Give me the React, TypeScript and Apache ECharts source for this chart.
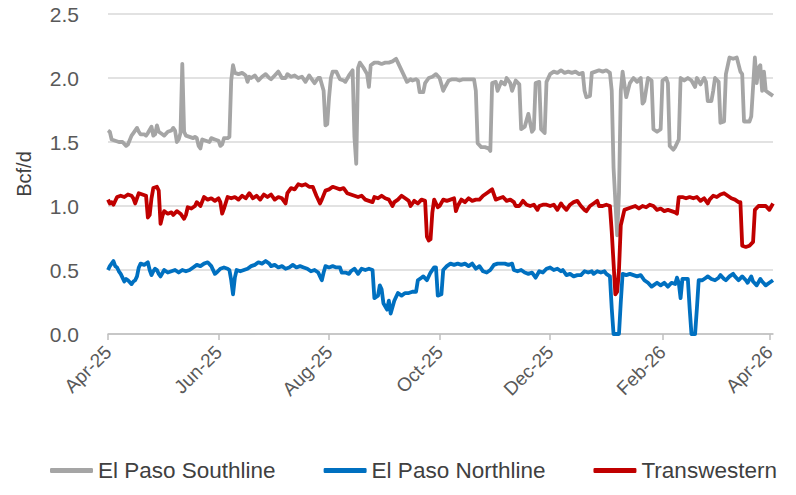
import React, { useEffect, useRef } from "react";
import * as echarts from "echarts";

// Day offsets from 1 Apr 2025
const startYear = 2025;
const startMonth = 3; // April (0-based)
const axisEndDay = 367;

const tickDays = [0, 61, 122, 183, 244, 306, 365];
const monthNames = ["Jan", "Feb", "Mar", "Apr", "May", "Jun", "Jul", "Aug", "Sep", "Oct", "Nov", "Dec"];

const yTicks = { min: 0, max: 2.5, interval: 0.5 };

const seriesNames = ["El Paso Southline", "El Paso Northline", "Transwestern"];
const seriesColors = ["#a5a5a5", "#0070c0", "#c00000"];

const southline: [number, number][] = [
  [0,1.59],[1,1.58],[2,1.52],[4,1.51],[6,1.50],[8,1.50],[10,1.47],[11,1.48],[13,1.55],[14,1.57],[16,1.61],[17,1.58],[18,1.56],[20,1.56],[21,1.55],[22,1.57],[24,1.62],[25,1.55],[26,1.56],[27,1.63],[28,1.58],[30,1.56],[31,1.55],[33,1.58],[35,1.59],[36,1.61],[37,1.59],[38,1.50],[39,1.52],[40,1.57],[41,2.11],[42,1.58],[43,1.55],[45,1.54],[47,1.53],[48,1.54],[49,1.53],[50,1.47],[51,1.45],[52,1.52],[54,1.51],[56,1.50],[57,1.53],[59,1.52],[61,1.51],[62,1.47],[63,1.48],[64,1.53],[66,1.53],[67,1.54],[68,1.98],[69,2.10],[70,2.04],[72,2.03],[74,2.04],[75,2.03],[76,2.02],[77,1.97],[78,2.01],[79,2.0],[81,2.02],[83,1.98],[85,2.01],[87,2.03],[89,2.0],[90,1.99],[92,2.02],[94,2.05],[96,2.0],[98,2.0],[99,2.03],[101,2.01],[103,2.02],[105,2.0],[107,2.01],[109,1.97],[111,2.02],[113,1.98],[114,1.96],[116,2.0],[117,2.0],[119,1.9],[120,1.63],[121,1.64],[122,1.85],[123,2.0],[124,2.05],[126,2.05],[128,1.99],[130,1.98],[131,1.97],[133,2.02],[135,2.06],[136,1.54],[137,1.33],[138,2.08],[139,2.12],[141,2.08],[143,2.03],[144,1.93],[145,2.1],[147,2.12],[149,2.12],[151,2.11],[153,2.12],[155,2.12],[157,2.13],[159,2.15],[160,2.12],[163,2.03],[165,1.97],[167,1.99],[168,1.98],[170,1.99],[171,1.98],[172,1.89],[174,1.89],[175,1.96],[177,2.0],[179,2.01],[181,2.03],[183,2.0],[185,1.9],[186,1.93],[188,1.98],[190,1.99],[192,1.99],[194,1.98],[196,1.99],[198,1.99],[200,1.99],[202,1.99],[203,1.90],[204,1.49],[206,1.46],[208,1.46],[210,1.45],[211,1.43],[212,1.96],[214,1.97],[215,1.9],[217,1.97],[219,1.95],[220,2.0],[222,1.96],[223,1.9],[225,1.98],[227,1.95],[228,1.6],[230,1.62],[232,1.72],[234,1.58],[235,1.6],[236,1.96],[238,1.97],[239,1.6],[241,1.57],[242,1.97],[244,2.03],[246,2.05],[248,2.04],[250,2.06],[252,2.04],[254,2.05],[256,2.04],[258,2.05],[260,2.03],[262,2.04],[263,1.9],[264,1.85],[266,1.86],[267,2.04],[269,2.05],[271,2.06],[273,2.05],[275,2.06],[277,2.04],[278,1.9],[279,1.3],[281,0.77],[282,1.1],[283,1.9],[284,2.05],[286,1.85],[288,1.96],[290,2.0],[292,1.97],[294,2.0],[295,1.8],[296,1.82],[298,2.0],[300,1.98],[301,1.6],[303,1.58],[305,1.6],[306,1.98],[308,2.0],[309,1.96],[310,1.47],[312,1.44],[313,1.46],[315,1.52],[316,2.0],[318,1.98],[320,2.0],[322,1.98],[324,1.93],[325,2.0],[327,1.95],[329,2.0],[330,1.97],[331,1.82],[333,1.82],[334,1.9],[335,2.0],[337,1.97],[338,1.65],[340,1.66],[341,2.03],[343,2.16],[345,2.15],[347,2.16],[349,2.05],[350,2.03],[351,1.66],[354,1.66],[355,1.7],[357,2.16],[358,1.96],[359,2.08],[360,2.1],[361,1.9],[362,2.05],[363,1.9],[365,1.88],[367,1.86]
];

const northline: [number, number][] = [
  [0,0.5],[1,0.53],[3,0.57],[4,0.53],[5,0.52],[6,0.49],[7,0.47],[8,0.44],[9,0.41],[10,0.43],[11,0.42],[13,0.39],[14,0.41],[15,0.42],[16,0.45],[17,0.52],[18,0.55],[20,0.54],[22,0.56],[23,0.5],[24,0.46],[25,0.49],[26,0.51],[27,0.5],[28,0.47],[29,0.45],[31,0.5],[33,0.48],[35,0.49],[37,0.5],[39,0.48],[41,0.5],[43,0.49],[45,0.5],[47,0.52],[49,0.54],[51,0.53],[53,0.55],[55,0.56],[57,0.53],[59,0.47],[60,0.48],[62,0.51],[64,0.52],[66,0.51],[67,0.5],[68,0.42],[69,0.31],[70,0.44],[71,0.5],[73,0.49],[75,0.5],[77,0.51],[79,0.53],[81,0.54],[83,0.56],[85,0.55],[87,0.57],[89,0.55],[90,0.53],[92,0.54],[94,0.52],[96,0.53],[98,0.51],[100,0.52],[102,0.54],[104,0.52],[106,0.53],[108,0.52],[110,0.51],[112,0.49],[114,0.5],[116,0.48],[117,0.45],[118,0.42],[119,0.48],[120,0.53],[122,0.52],[124,0.53],[126,0.52],[128,0.52],[129,0.48],[131,0.48],[133,0.47],[134,0.49],[136,0.51],[138,0.47],[140,0.51],[142,0.5],[144,0.51],[146,0.5],[147,0.28],[149,0.3],[150,0.38],[151,0.35],[152,0.24],[154,0.19],[155,0.26],[156,0.16],[158,0.26],[160,0.32],[162,0.3],[164,0.32],[166,0.32],[168,0.33],[170,0.33],[171,0.42],[173,0.44],[174,0.45],[176,0.42],[178,0.48],[180,0.52],[181,0.52],[182,0.3],[184,0.31],[185,0.5],[187,0.53],[189,0.55],[191,0.54],[193,0.55],[195,0.54],[197,0.55],[199,0.53],[201,0.55],[203,0.51],[205,0.53],[207,0.49],[209,0.48],[211,0.5],[213,0.54],[215,0.55],[217,0.55],[219,0.55],[221,0.54],[223,0.55],[224,0.5],[226,0.49],[228,0.5],[230,0.48],[232,0.47],[234,0.48],[236,0.44],[238,0.49],[240,0.48],[242,0.51],[244,0.52],[246,0.5],[248,0.51],[250,0.49],[251,0.5],[253,0.46],[255,0.47],[257,0.45],[259,0.46],[261,0.46],[263,0.49],[265,0.48],[267,0.49],[268,0.47],[270,0.49],[272,0.48],[274,0.49],[275,0.47],[277,0.45],[278,0.2],[279,0],[282,0],[283,0.25],[284,0.47],[286,0.46],[288,0.47],[290,0.46],[292,0.45],[294,0.46],[296,0.42],[298,0.4],[300,0.37],[301,0.38],[303,0.4],[305,0.38],[307,0.4],[309,0.37],[311,0.4],[313,0.39],[314,0.44],[315,0.4],[316,0.28],[317,0.43],[319,0.43],[320,0.43],[321,0.2],[322,0],[324,0],[325,0.2],[326,0.42],[328,0.42],[330,0.44],[331,0.45],[333,0.43],[335,0.42],[337,0.44],[338,0.46],[340,0.43],[341,0.42],[343,0.45],[345,0.47],[346,0.45],[348,0.42],[350,0.45],[352,0.42],[353,0.4],[355,0.45],[356,0.41],[358,0.38],[360,0.43],[361,0.41],[363,0.38],[365,0.4],[367,0.42]
];

const transwestern: [number, number][] = [
  [0,1.05],[1,1.02],[2,1.03],[3,1.01],[5,1.07],[7,1.08],[9,1.07],[11,1.09],[13,1.08],[14,1.06],[15,1.02],[17,1.1],[19,1.09],[21,1.08],[22,0.91],[23,0.93],[24,1.06],[25,1.14],[27,1.15],[28,1.12],[29,0.86],[30,0.92],[31,0.96],[33,0.94],[35,0.95],[36,0.93],[38,0.96],[40,0.94],[42,0.9],[43,0.93],[44,0.99],[46,0.98],[48,1.0],[49,1.03],[51,1.0],[53,1.07],[55,1.05],[57,1.06],[59,1.04],[61,1.06],[62,1.03],[63,0.94],[64,0.98],[66,1.07],[68,1.06],[70,1.07],[72,1.05],[74,1.08],[76,1.06],[78,1.1],[80,1.06],[82,1.08],[84,1.05],[86,1.09],[88,1.07],[90,1.09],[92,1.05],[94,1.07],[96,1.06],[98,1.02],[99,1.1],[101,1.14],[103,1.13],[105,1.17],[107,1.16],[109,1.17],[111,1.15],[113,1.15],[115,1.08],[117,1.02],[118,1.05],[120,1.12],[122,1.13],[124,1.15],[126,1.14],[128,1.13],[130,1.14],[132,1.1],[134,1.09],[136,1.08],[138,1.07],[140,1.08],[142,1.05],[144,1.04],[146,1.03],[147,1.07],[149,1.06],[151,1.08],[153,1.06],[155,1.05],[157,1.0],[158,1.03],[160,1.05],[162,1.08],[164,1.06],[166,1.04],[167,1.0],[169,1.04],[171,1.02],[173,1.05],[175,1.04],[176,0.76],[177,0.73],[178,0.74],[179,0.95],[180,1.05],[182,0.99],[183,1.0],[185,1.05],[187,1.04],[189,1.05],[191,1.06],[192,0.96],[193,1.0],[195,1.05],[197,1.03],[199,1.06],[201,1.04],[203,1.05],[205,1.05],[207,1.08],[209,1.1],[211,1.12],[212,1.13],[214,1.05],[216,1.06],[218,1.07],[220,1.04],[222,1.05],[224,1.03],[225,1.0],[227,1.0],[229,1.04],[231,1.01],[233,1.0],[235,1.01],[237,0.97],[238,1.0],[240,1.01],[242,1.01],[244,1.0],[246,1.01],[248,0.97],[250,1.02],[251,1.0],[253,0.97],[255,1.01],[257,1.03],[259,1.04],[261,1.0],[263,0.97],[264,0.96],[266,1.0],[268,1.02],[270,1.04],[271,1.0],[273,1.0],[275,1.01],[277,1.0],[278,0.8],[280,0.31],[281,0.33],[282,0.5],[283,0.85],[285,0.97],[287,0.98],[289,0.99],[291,1.0],[293,0.98],[295,1.0],[297,0.99],[299,1.01],[301,1.0],[303,0.97],[305,0.98],[307,0.96],[309,0.97],[311,0.96],[313,0.95],[314,0.94],[315,1.07],[317,1.07],[319,1.06],[321,1.07],[323,1.06],[325,1.07],[327,1.04],[329,1.06],[331,1.02],[332,1.05],[334,1.08],[336,1.07],[338,1.09],[340,1.1],[342,1.08],[344,1.06],[346,1.05],[348,1.03],[349,1.03],[350,0.69],[352,0.68],[354,0.69],[356,0.72],[357,0.97],[359,1.0],[361,1.0],[363,1.0],[365,0.97],[367,1.02]
];

const dayLabel = (d: number) => {
  const dt = new Date(startYear, startMonth, 1 + Math.round(d));
  return monthNames[dt.getMonth()] + "-" + String(dt.getFullYear()).slice(2);
};

const FONT = "'Liberation Sans', Arial, sans-serif";

export default function App() {
  const ref = useRef<HTMLDivElement>(null);
  useEffect(() => {
    if (!ref.current) return;
    const chart = echarts.init(ref.current, undefined, { renderer: "svg" });
    const allSeries = [southline, northline, transwestern];
    chart.setOption({
      animation: false,
      backgroundColor: "#ffffff",
      textStyle: { fontFamily: FONT },
      grid: { left: 108, right: 23, top: 14, bottom: 161 },
      legend: {
        bottom: 8,
        left: 45,
        width: 751,
        icon: "roundRect",
        itemWidth: 43,
        itemHeight: 5,
        itemGap: 48,
        textStyle: { fontFamily: FONT, fontSize: 22.5, color: "#404040" },
        data: seriesNames,
      },
      xAxis: {
        type: "value",
        min: 0,
        max: axisEndDay,
        axisLine: { show: true, onZero: false, lineStyle: { color: "#bfbfbf", width: 1.5 } },
        axisTick: {
          show: true,
          customValues: tickDays,
          length: 6,
          lineStyle: { color: "#bfbfbf", width: 1.5 },
        },
        axisLabel: {
          customValues: tickDays,
          rotate: 45,
          margin: 15,
          fontFamily: FONT,
          fontSize: 19,
          color: "#595959",
          formatter: (v: number) => dayLabel(v),
        },
        splitLine: { show: false },
      },
      yAxis: {
        type: "value",
        min: yTicks.min,
        max: yTicks.max,
        interval: yTicks.interval,
        name: "Bcf/d",
        nameLocation: "middle",
        nameRotate: 90,
        nameGap: 74,
        nameTextStyle: { fontFamily: FONT, fontSize: 20, color: "#404040" },
        axisLine: { show: false },
        axisTick: { show: false },
        axisLabel: {
          margin: 29,
          fontFamily: FONT,
          fontSize: 21,
          color: "#595959",
          formatter: (v: number) => v.toFixed(1),
        },
        splitLine: { lineStyle: { color: "#d9d9d9", width: 1.5 } },
      },
      series: allSeries.map((s, i) => ({
        name: seriesNames[i],
        type: "line",
        showSymbol: false,
        symbol: "none",
        color: seriesColors[i],
        lineStyle: { width: 3.8, color: seriesColors[i], join: "round" },
        data: s,
      })),
    });
    return () => chart.dispose();
  }, []);
  return (
    <div
      ref={ref}
      style={{ position: "absolute", left: 0, top: 0, width: 796, height: 495 }}
    />
  );
}
